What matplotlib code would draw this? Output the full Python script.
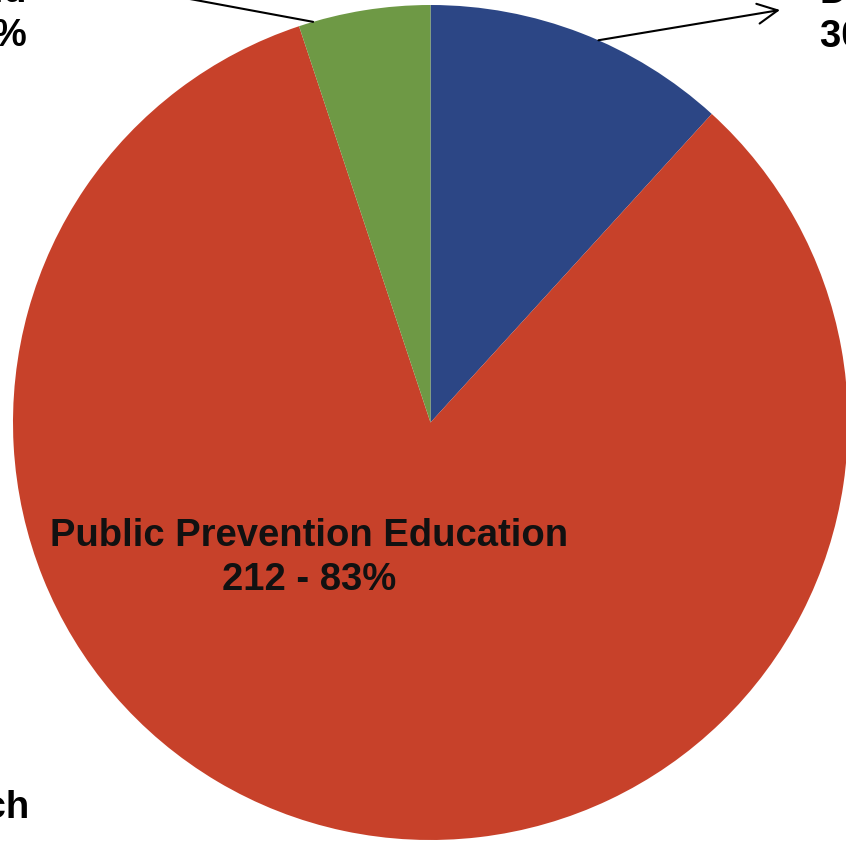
import numpy as np
import matplotlib
matplotlib.use("Agg")
import matplotlib.pyplot as plt

# ---- data ----
categories = ["Direct Services", "Public Prevention Education", "Tobacco Trust Fund"]
counts = [30, 212, 13]
percents = ["12%", "83%", "5%"]
colors = ["#2C4685", "#C7412A", "#6E9945"]
extra_label = "Research"

plt.rcParams["font.family"] = ["Liberation Sans", "DejaVu Sans"]

W, H = 846, 844
fig = plt.figure(figsize=(W / 100, H / 100), dpi=100)
fig.patch.set_facecolor("white")
ax = fig.add_axes([0, 0, 1, 1])

cx, cy, R = 430.5, 422.5, 417.5
# y axis points down (pixel-like coordinates): counterclock=True looks clockwise
wedges, _ = ax.pie(counts, colors=colors, startangle=-90, counterclock=True,
                   center=(cx, cy), radius=R,
                   wedgeprops=dict(linewidth=0))
ax.set_xlim(0, W)
ax.set_ylim(H, 0)
ax.set_aspect("auto")
ax.axis("off")

fs = 27.5
def edge_point(w, frac):
    th = np.deg2rad(w.theta1 + frac * (w.theta2 - w.theta1))
    return (w.center[0] + w.r * np.cos(th), w.center[1] + w.r * np.sin(th))

# Blue label (top right, partly outside the figure)
bx, by = edge_point(wedges[0], 0.56)
ax.annotate("", xy=(780, 10), xytext=(bx, by), annotation_clip=False,
            arrowprops=dict(arrowstyle="->", color="black", lw=1.5,
                            mutation_scale=36, shrinkA=0, shrinkB=0))
ax.text(820, 47, f"{categories[0]}\n{counts[0]} - {percents[0]}",
        ha="left", va="baseline", fontsize=fs, fontweight="bold",
        linespacing=1.3, multialignment="left")

# Green label (top left, partly outside the figure)
gx, gy = edge_point(wedges[2], 0.11)
ax.annotate("", xy=(120, -14), xytext=(gx, gy), annotation_clip=False,
            arrowprops=dict(arrowstyle="-", color="black", lw=1.5,
                            shrinkA=0, shrinkB=0))
ax.text(27, 46, f"{categories[2]}\n{counts[2]} - {percents[2]}",
        ha="right", va="baseline", fontsize=fs, fontweight="bold",
        linespacing=1.3, multialignment="right")

# Red label inside the pie
ax.text(309, 590, f"{categories[1]}\n{counts[1]} - {percents[1]}",
        ha="center", va="baseline", fontsize=fs, fontweight="bold",
        linespacing=1.3, multialignment="center", color="#111111")

# Extra label (bottom left, cut off)
ax.text(30, 818, extra_label, ha="right", va="baseline",
        fontsize=fs, fontweight="bold")

fig.savefig("out.png", dpi=100, facecolor="white")
